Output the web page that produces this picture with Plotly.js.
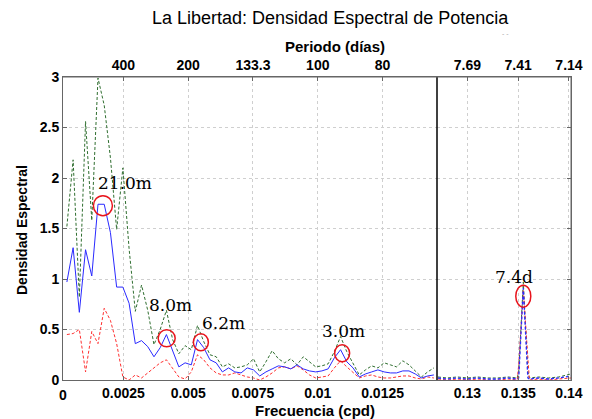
<!DOCTYPE html>
<html><head><meta charset="utf-8">
<script src="https://cdn.plot.ly/plotly-3.0.1.min.js"></script>
<style>html,body{margin:0;padding:0;background:#fff}#chart{width:592px;height:419px}</style>
</head><body><div id="chart"></div>
<script>
// Left panel: frequency (cpd) and spectral density
const freqLow = [0.00032,0.00056,0.00080,0.00104,0.00128,0.00152,0.00176,0.00200,0.00224,0.00248,
  0.00272,0.00296,0.00320,0.00344,0.00368,0.00392,0.00416,0.00440,0.00464,0.00488,
  0.00512,0.00536,0.00560,0.00584,0.00608,0.00632,0.00656,0.00680,0.00704,0.00728,
  0.00752,0.00776,0.00800,0.00824,0.00848,0.00872,0.00896,0.00920,0.00944,0.00968,
  0.00992,0.01016,0.01040,0.01064,0.01088,0.01112,0.01136,0.01160,0.01184,0.01208,
  0.01232,0.01256,0.01280,0.01304,0.01328,0.01352,0.01376,0.01400,0.01424,0.01448];
const psdLow = [0.97,1.31,0.67,1.29,1.03,1.74,1.74,1.46,0.92,0.92,
  0.76,0.36,0.39,0.33,0.23,0.32,0.45,0.28,0.13,0.17,
  0.15,0.40,0.32,0.20,0.17,0.08,0.12,0.08,0.07,0.12,
  0.10,0.04,0.08,0.11,0.14,0.13,0.11,0.15,0.11,0.09,
  0.08,0.09,0.11,0.22,0.30,0.18,0.12,0.03,0.06,0.08,
  0.10,0.08,0.07,0.07,0.09,0.09,0.06,0.02,0.04,0.05];
const upperLow = [1.52,2.18,0.82,2.56,1.58,2.99,2.72,2.20,1.49,2.10,
  1.30,0.68,0.94,0.69,0.35,0.50,0.69,0.40,0.26,0.34,
  0.30,0.54,0.38,0.25,0.23,0.13,0.16,0.12,0.13,0.15,
  0.21,0.08,0.18,0.29,0.21,0.17,0.21,0.15,0.23,0.18,
  0.13,0.14,0.16,0.28,0.43,0.28,0.17,0.05,0.10,0.14,
  0.12,0.17,0.15,0.13,0.19,0.15,0.09,0.03,0.08,0.12];
const lowerLow = [0.45,0.46,0.50,0.08,0.48,0.36,0.71,0.59,0.36,0.03,
  0.00,0.05,0.02,0.07,0.12,0.17,0.20,0.12,0.03,0.01,
  0.08,0.25,0.20,0.12,0.07,0.05,0.05,0.07,0.05,0.03,
  0.02,0.00,0.03,0.07,0.12,0.13,0.11,0.14,0.10,0.05,
  0.02,0.03,0.04,0.12,0.19,0.13,0.07,0.02,0.04,0.05,
  0.03,0.02,0.02,0.03,0.04,0.04,0.02,0.01,0.03,0.02];

// Right panel
const freqHigh = [0.1271,0.1280,0.1290,0.1300,0.1310,0.1320,0.1330,0.1340,0.1349,0.13505,0.1355,0.13595,0.1361,0.1370,0.1380,0.1390,0.1402];
const psdHigh =   [0.02,0.01,0.02,0.01,0.02,0.01,0.01,0.02,0.01,0.02,0.91,0.02,0.01,0.02,0.01,0.02,0.04];
const upperHigh = [0.03,0.02,0.03,0.02,0.03,0.02,0.02,0.03,0.02,0.08,0.97,0.08,0.02,0.03,0.02,0.03,0.06];
const lowerHigh = [0.01,0.00,0.01,0.00,0.01,0.00,0.00,0.01,0.00,0.15,0.89,0.15,0.00,0.01,0.00,0.01,0.02];

// Ticks
const lowTickVals = [0.0025,0.005,0.0075,0.01,0.0125];
const lowTickText = ['0.0025','0.005','0.0075','0.01','0.0125'];
const periodLowText = ['400','200','133.3','100','80'];
const highTickVals = [0.13,0.135,0.14];
const highTickText = ['0.13','0.135','0.14'];
const periodHighText = ['7.69','7.41','7.14'];
const yTickVals = [0,0.5,1,1.5,2,2.5,3];
const yTickText = ['0','0.5','1','1.5','2','2.5','3'];

// Peak labels
const peakLabels = ['21.0m','8.0m','6.2m','3.0m'];
const peakLabelX = [0.00256,0.00430,0.00636,0.01101];
const peakLabelY = [1.95,0.74,0.56,0.485];
const peakCircX = [0.00171,0.00417,0.00549,0.01094];
const peakCircY = [1.726,0.413,0.373,0.264];
const peakCircW = [19,17,15,15];
const peakCircH = [20,17,17,17];
const dayLabel = '7.4d', dayLabelX = 0.13459, dayLabelY = 1.02, dayCircX = 0.1355, dayCircY = 0.83;

const GREEN = '#2f6e2f', BLUE = '#2a2aff', RED = '#ff3030';
const SANS = 'Liberation Sans, Arial, sans-serif';
const SERIF = 'DejaVu Serif, Liberation Serif, serif';
const tickFont = {family:SANS, size:14, color:'#000', weight:'bold'};

function tr(x, y, xa, ya, color, dash, w){
  return {x:x, y:y, xaxis:xa, yaxis:ya, type:'scatter', mode:'lines',
    line:{color:color, width:w, dash:dash}, hoverinfo:'skip', showlegend:false};
}
const data = [
  tr(freqLow, upperLow, 'x','y', GREEN, '3px,2px', 1),
  tr(freqLow, lowerLow, 'x','y', RED, '3px,2px', 1),
  tr(freqLow, psdLow, 'x','y', BLUE, 'solid', 1),
  tr(freqHigh, upperHigh, 'x2','y2', GREEN, '3px,2px', 1),
  tr(freqHigh, lowerHigh, 'x2','y2', RED, '3px,2px', 1),
  tr(freqHigh, psdHigh, 'x2','y2', BLUE, '3px,2px', 1.3),
  {x:[0.005], y:[-1], xaxis:'x3', yaxis:'y', type:'scatter', mode:'markers', marker:{opacity:0}, hoverinfo:'skip', showlegend:false},
  {x:[0.135], y:[-1], xaxis:'x4', yaxis:'y2', type:'scatter', mode:'markers', marker:{opacity:0}, hoverinfo:'skip', showlegend:false}
];

const D = 374/508;
const axBase = {showline:true, linecolor:'#666', linewidth:1, ticks:'inside', ticklen:4, tickcolor:'#666',
  showgrid:true, gridcolor:'#cfcfcf', griddash:'dot', gridwidth:1, zeroline:false, tickfont:tickFont, fixedrange:true};

const layout = {
  width:592, height:419, paper_bgcolor:'#fff', plot_bgcolor:'#fff',
  margin:{l:63, r:21, t:77, b:39},
  showlegend:false,
  xaxis:Object.assign({}, axBase, {domain:[0,D], range:[0.00017,0.0146], anchor:'y',
    tickmode:'array', tickvals:lowTickVals, ticktext:lowTickText, mirror:false}),
  xaxis2:Object.assign({}, axBase, {domain:[D,1], range:[0.1270,0.1402], anchor:'y2',
    tickmode:'array', tickvals:highTickVals, ticktext:highTickText, mirror:false}),
  xaxis3:Object.assign({}, axBase, {overlaying:'x', side:'top', anchor:'y', range:[0.00017,0.0146],
    tickmode:'array', tickvals:lowTickVals, ticktext:periodLowText, showgrid:false}),
  xaxis4:Object.assign({}, axBase, {overlaying:'x2', side:'top', anchor:'y2', range:[0.1270,0.1402],
    tickmode:'array', tickvals:highTickVals, ticktext:periodHighText, showgrid:false}),
  yaxis:Object.assign({}, axBase, {domain:[0,1], range:[0,3], anchor:'x',
    tickmode:'array', tickvals:yTickVals, ticktext:yTickText, mirror:false}),
  yaxis2:Object.assign({}, axBase, {domain:[0,1], range:[0,3], anchor:'x2', side:'right',
    tickmode:'array', tickvals:yTickVals, showticklabels:false, mirror:false}),
  annotations:[
    {text:'La Libertad: Densidad Espectral de Potencia', xref:'paper', yref:'paper', x:(330-63)/508, y:(380-18)/303,
      showarrow:false, xanchor:'center', yanchor:'middle', font:{family:SANS, size:18, color:'#000'}},
    {text:'Periodo (días)', xref:'paper', yref:'paper', x:(335-63)/508, y:(380-46)/303,
      showarrow:false, xanchor:'center', yanchor:'middle', font:{family:SANS, size:15, color:'#000', weight:'bold'}},
    {text:'Frecuencia (cpd)', xref:'paper', yref:'paper', x:(315-63)/508, y:(380-410)/303,
      showarrow:false, xanchor:'center', yanchor:'middle', font:{family:SANS, size:15, color:'#000', weight:'bold'}},
    {text:'Densidad Espectral', xref:'paper', yref:'paper', x:(22-63)/508, y:(380-230)/303, textangle:-90,
      showarrow:false, xanchor:'center', yanchor:'middle', font:{family:SANS, size:14, color:'#000', weight:'bold'}},
    {text:'0', xref:'paper', yref:'paper', x:0, y:(380-395)/303,
      showarrow:false, xanchor:'center', yanchor:'middle', font:tickFont},
    {text:'- -', xref:'paper', yref:'paper', x:(505-63)/508, y:(380-33)/303,
      showarrow:false, xanchor:'center', yanchor:'middle', font:{family:SANS, size:7, color:'#aaa'}}
  ],
  shapes:[
    {type:'line', xref:'paper', yref:'paper', x0:D, x1:D, y0:0, y1:1, line:{color:'#000', width:1.5}},
    {type:'line', xref:'paper', yref:'paper', x0:0, x1:1, y0:1, y1:1, line:{color:'#666', width:1}},
    {type:'line', xref:'paper', yref:'paper', x0:1, x1:1, y0:0, y1:1, line:{color:'#666', width:1}}
  ]
};
for (let i=0;i<peakLabels.length;i++){
  layout.annotations.push({text:peakLabels[i], x:peakLabelX[i], y:peakLabelY[i], xref:'x', yref:'y', showarrow:false,
    xanchor:'center', yanchor:'middle', font:{family:SERIF, size:17, color:'#000'}});
  layout.shapes.push({type:'circle', xref:'x', yref:'y', xsizemode:'pixel', ysizemode:'pixel',
    xanchor:peakCircX[i], yanchor:peakCircY[i], x0:-peakCircW[i]/2, x1:peakCircW[i]/2, y0:-peakCircH[i]/2, y1:peakCircH[i]/2,
    line:{color:'#e8141c', width:1.5}});
}
layout.annotations.push({text:dayLabel, x:dayLabelX, y:dayLabelY, xref:'x2', yref:'y2', showarrow:false,
  xanchor:'center', yanchor:'middle', font:{family:SERIF, size:17, color:'#000'}});
layout.shapes.push({type:'circle', xref:'x2', yref:'y2', xsizemode:'pixel', ysizemode:'pixel',
  xanchor:dayCircX, yanchor:dayCircY, x0:-7.5, x1:7.5, y0:-11, y1:11, line:{color:'#e8141c', width:1.5}});

Plotly.newPlot('chart', data, layout, {staticPlot:true, displayModeBar:false});
</script></body></html>
